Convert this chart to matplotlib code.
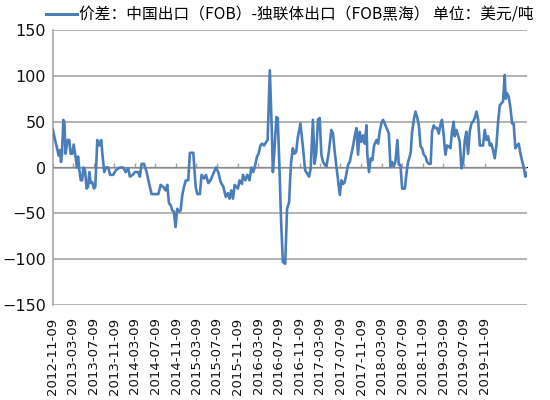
import matplotlib
matplotlib.use("Agg")
import matplotlib.pyplot as plt
import matplotlib.dates as mdates
from matplotlib.lines import Line2D
import pandas as pd

plt.rcParams['font.family'] = ['Noto Sans CJK SC', 'DejaVu Sans']

series_name = "价差：中国出口（FOB）-独联体出口（FOB黑海） 单位：美元/吨"

dates = [
    "2012-11-09", "2012-11-23", "2012-12-06", "2012-12-14", "2012-12-22", "2012-12-28",
    "2013-01-03", "2013-01-11", "2013-01-17", "2013-01-24", "2013-02-05", "2013-02-15",
    "2013-02-23", "2013-03-05", "2013-03-13", "2013-03-23", "2013-04-02", "2013-04-08",
    "2013-04-16", "2013-04-24", "2013-05-02", "2013-05-10", "2013-05-19", "2013-05-29",
    "2013-06-06", "2013-06-14", "2013-06-22", "2013-07-01", "2013-07-11", "2013-07-19",
    "2013-07-31", "2013-08-12", "2013-08-23", "2013-08-31", "2013-09-10", "2013-09-20",
    "2013-10-04", "2013-10-14", "2013-11-02", "2013-11-18", "2013-12-02", "2013-12-12",
    "2014-01-01", "2014-01-14", "2014-01-30", "2014-02-09", "2014-02-25", "2014-03-11",
    "2014-03-30", "2014-04-09", "2014-04-19", "2014-05-03", "2014-05-19", "2014-06-02",
    "2014-06-17", "2014-07-17", "2014-07-27", "2014-08-10", "2014-08-25", "2014-09-08",
    "2014-09-18", "2014-09-28", "2014-10-08", "2014-10-18", "2014-10-27", "2014-11-06",
    "2014-11-16", "2014-11-26", "2014-12-06", "2014-12-16", "2014-12-26", "2015-01-06",
    "2015-01-20", "2015-01-30", "2015-02-19", "2015-03-05", "2015-03-15", "2015-03-30",
    "2015-04-09", "2015-04-23", "2015-05-05", "2015-05-19", "2015-06-01", "2015-06-17",
    "2015-07-03", "2015-07-17", "2015-07-31", "2015-08-16", "2015-08-30",
    "2015-09-12", "2015-09-22", "2015-10-02", "2015-10-12", "2015-10-22", "2015-11-10",
    "2015-11-20", "2015-12-04", "2015-12-10", "2015-12-24", "2016-01-05", "2016-01-18",
    "2016-01-28", "2016-02-09", "2016-02-21", "2016-03-02", "2016-03-12", "2016-03-22",
    "2016-04-01", "2016-04-13", "2016-04-26", "2016-05-04", "2016-05-17", "2016-05-29",
    "2016-06-04", "2016-06-14", "2016-06-25", "2016-07-03", "2016-07-13", "2016-07-23",
    "2016-08-02", "2016-08-16", "2016-08-27", "2016-09-08", "2016-09-15",
    "2016-09-20", "2016-09-30", "2016-10-10", "2016-10-20", "2016-10-29", "2016-11-14",
    "2016-11-28", "2016-12-12", "2016-12-25", "2017-01-04", "2017-01-14", "2017-01-27",
    "2017-02-06", "2017-02-16", "2017-02-26", "2017-03-08", "2017-03-18", "2017-03-28",
    "2017-04-07", "2017-04-17", "2017-05-01", "2017-05-16", "2017-05-26", "2017-06-05",
    "2017-06-15", "2017-06-25", "2017-07-05", "2017-07-15", "2017-07-25", "2017-08-03",
    "2017-08-13", "2017-08-23", "2017-09-02",
    "2017-09-12", "2017-09-22", "2017-10-02", "2017-10-12", "2017-10-21", "2017-10-31",
    "2017-11-10", "2017-11-20", "2017-11-30", "2017-12-10", "2017-12-15", "2017-12-25",
    "2018-01-04", "2018-01-14", "2018-01-24", "2018-02-07", "2018-02-17", "2018-02-26",
    "2018-03-08", "2018-03-18", "2018-03-28", "2018-04-13", "2018-04-21", "2018-05-01",
    "2018-05-11", "2018-05-20", "2018-05-30", "2018-06-11", "2018-06-19", "2018-06-29",
    "2018-07-09", "2018-07-25", "2018-08-03", "2018-08-13", "2018-08-23",
    "2018-08-29", "2018-09-06", "2018-09-18", "2018-09-26", "2018-10-06", "2018-10-16",
    "2018-10-26", "2018-11-04", "2018-11-14", "2018-11-24", "2018-12-04", "2018-12-14",
    "2018-12-25", "2019-01-02", "2019-01-12", "2019-01-22", "2019-02-01", "2019-02-11",
    "2019-02-20", "2019-03-02", "2019-03-12", "2019-03-22", "2019-04-01", "2019-04-11",
    "2019-04-21", "2019-04-30", "2019-05-10", "2019-05-16", "2019-05-26", "2019-06-05",
    "2019-06-15", "2019-06-25", "2019-07-05", "2019-07-15", "2019-07-24", "2019-08-03",
    "2019-08-13", "2019-08-23", "2019-09-02", "2019-09-12", "2019-09-22", "2019-10-02",
    "2019-10-12", "2019-10-21", "2019-10-31", "2019-11-10", "2019-11-20", "2019-11-30",
    "2019-12-10", "2019-12-19", "2019-12-29", "2020-01-08", "2020-01-18", "2020-01-28",
    "2020-02-07", "2020-02-17", "2020-02-26", "2020-03-07", "2020-03-13", "2020-03-21",
    "2020-03-31", "2020-04-10", "2020-04-20", "2020-04-29", "2020-05-09", "2020-05-19",
    "2020-05-29", "2020-06-08", "2020-06-20", "2020-06-29", "2020-07-07", "2020-07-17",
]

values = [
    42, 30, 20, 13, 19, 6,
    15, 52, 50, 15, 30, 30,
    15, 15, 25, 13, 0, 12,
    -3, -14, -14, 0, -3, -23,
    -21, -5, -17, -16, -23, -21,
    30, 24, 30, 13, -5, 0,
    0, -8, -8, -3, -1, 0,
    0, -5, -1, -10, -8, -5,
    -5, -10, 4, 4, -5, -17,
    -29, -29, -29, -19, -21, -25,
    -19, -39, -41, -47, -48, -65,
    -45, -48, -47, -30, -21, -14,
    -14, 16, 16, -21, -29, -29,
    -8, -12, -8, -17, -14, -7,
    0, -5, -16, -21, -32,
    -28, -34, -25, -34, -19, -23,
    -14, -18, -8, -14, -8, -14,
    0, -5, 3, 12, 15, 24,
    26, 24, 28, 30, 106, 39,
    -5, 21, 55, 54, -1, -60,
    -103, -105, -45, -38, -10,
    6, 21, 15, 17, 32, 48,
    24, -3, -7, -10, -1, 52,
    4, 17, 52, 54, 14, 6,
    3, 1, 17, 41, 37, 17,
    1, -16, -30, -14, -18, -16,
    -7, 3, 6,
    15, 24, 35, 43, 14, 39,
    28, 35, 26, 46, 14, -5,
    10, 8, 24, 30, 26, 39,
    48, 52, 48, 41, 37, 1,
    6, 1, 6, 30, 3, 3,
    -23, -23, -8, 6, 12,
    17, 39, 54, 61, 55, 46,
    23, 21, 14, 12, 6, 4,
    4, 39, 46, 43, 43, 37,
    46, 52, 35, 14, 24, 23,
    21, 39, 50, 34, 41, 35,
    28, -1, 6, 30, 39, 15,
    39, 48, 50, 54, 61, 52,
    24, 24, 24, 41, 30, 34,
    24, 26, 19, 10, 24, 50,
    68, 70, 72, 101, 75, 81,
    77, 65, 48, 48, 21, 24,
    26, 15, 6, -1, -10, -6,
]

tick_labels = [
    "2012-11-09", "2013-03-09", "2013-07-09", "2013-11-09", "2014-03-09", "2014-07-09",
    "2014-11-09", "2015-03-09", "2015-07-09", "2015-11-09", "2016-03-09", "2016-07-09",
    "2016-11-09", "2017-03-09", "2017-07-09", "2017-11-09", "2018-03-09", "2018-07-09",
    "2018-11-09", "2019-03-09", "2019-07-09", "2019-11-09",
]
y_ticks = [-150, -100, -50, 0, 50, 100, 150]

x = pd.to_datetime(dates)
tick_pos = mdates.date2num(pd.to_datetime(tick_labels))

fig = plt.figure(figsize=(5.5, 4), dpi=100)
ax = fig.add_axes([52.7 / 550, 95 / 400, (527 - 52.7) / 550, 275 / 400])

grid_c = "#A6A6A6"
line_c = "#4A7EBB"

line, = ax.plot(mdates.date2num(x), values, color=line_c, lw=1.9,
                solid_joinstyle="round", zorder=3)

ax.set_ylim(-150, 150)
ax.set_yticks(y_ticks)
ax.set_xlim(mdates.date2num(x[0]), mdates.date2num(x[-1]))
ax.grid(axis="y", color=grid_c, lw=1.2)
ax.set_axisbelow(True)
for s in ["top", "right", "bottom"]:
    ax.spines[s].set_visible(False)
ax.spines["left"].set_color(grid_c)
ax.spines["left"].set_linewidth(1.2)

ax.tick_params(axis="y", length=0, pad=5)
for lab in ax.get_yticklabels():
    lab.set_fontfamily("DejaVu Sans")
    lab.set_fontsize(11.5)
    lab.set_color("#111111")

ax.set_xticks(tick_pos)
ax.set_xticklabels(tick_labels, rotation=90, fontfamily="DejaVu Sans",
                   fontsize=9.5, color="#111111")
ax.tick_params(axis="x", length=0, pad=9)

sec = ax.secondary_xaxis(0.5)
sec.set_xticks(tick_pos)
sec.set_xticklabels([])
sec.tick_params(axis="x", length=3, width=1, color=grid_c, direction="out")
sec.spines["bottom"].set_color(grid_c)
sec.spines["bottom"].set_linewidth(1.2)

handle = Line2D([], [], color=line_c, lw=2.2)
fig.legend([handle], [series_name], loc="center left",
           bbox_to_anchor=(46 / 550, 1 - 15 / 400), frameon=False,
           handlelength=1.95, handletextpad=0.15, borderaxespad=0, borderpad=0,
           prop={"family": ["Noto Sans CJK SC", "DejaVu Sans"], "size": 11.3})

fig.savefig("out.png", dpi=100)
